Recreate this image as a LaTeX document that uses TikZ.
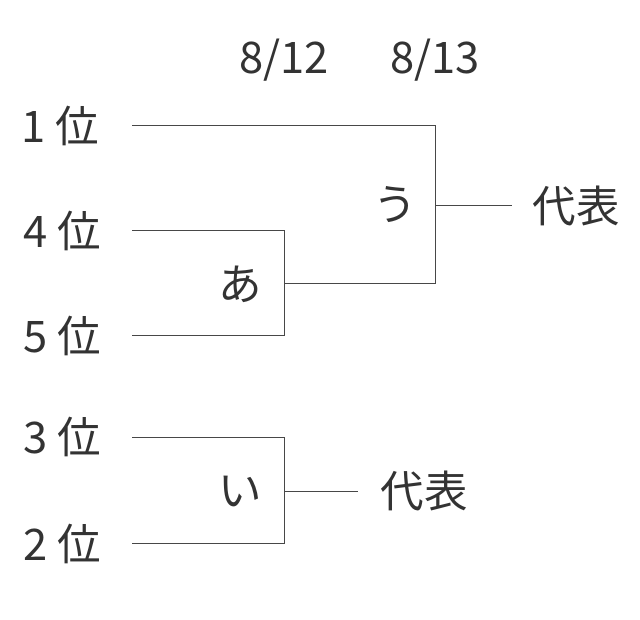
\documentclass[tikz,border=0pt]{standalone}
\usepackage{fontspec}
\setmainfont{Noto Sans CJK JP}
\begin{document}
\begin{tikzpicture}[x=1pt,y=-1pt,
  lbl/.style={font=\fontsize{43.5}{46}\selectfont, text=black!80, inner sep=0pt, anchor=center},
  ln/.style={draw=black!72, line width=1pt}]
\useasboundingbox (0,0) rectangle (640,620);
% labels
\node[lbl] (r1) at (60,126) {1 位};
\node[lbl] (r4) at (62,231) {4 位};
\node[lbl] (r5) at (62,336) {5 位};
\node[lbl] (r3) at (62,437) {3 位};
\node[lbl] (r2) at (62,544) {2 位};
\node[lbl] (d1) at (284,60) {8/12};
\node[lbl] (d2) at (435,60) {8/13};
\node[lbl] (ka) at (240,284) {あ};
\node[lbl] (ki) at (240,491) {い};
\node[lbl] (ku) at (395,205) {う};
\node[lbl] (w1) at (576,206) {代表};
\node[lbl] (w2) at (424,491) {代表};
% coordinates
\coordinate (s1) at (132,126);
\coordinate (s4) at (132,231);
\coordinate (s5) at (132,336);
\coordinate (s3) at (132,437);
\coordinate (s2) at (132,543);
\coordinate (a1) at (284,231);
\coordinate (a2) at (284,336);
\coordinate (am) at (284,284);
\coordinate (u1) at (435,126);
\coordinate (u2) at (435,284);
\coordinate (um) at (435,206);
\coordinate (ue) at (512,206);
\coordinate (i1) at (284,437);
\coordinate (i2) at (284,543);
\coordinate (im) at (284,491);
\coordinate (ie) at (358,491);
% lines
\draw[ln] (s4) -- (a1) -- (a2) -- (s5);
\draw[ln] (am) -- (u2) -- (u1) -- (s1);
\draw[ln] (um) -- (ue);
\draw[ln] (s3) -- (i1) -- (i2) -- (s2);
\draw[ln] (im) -- (ie);
\end{tikzpicture}
\end{document}
